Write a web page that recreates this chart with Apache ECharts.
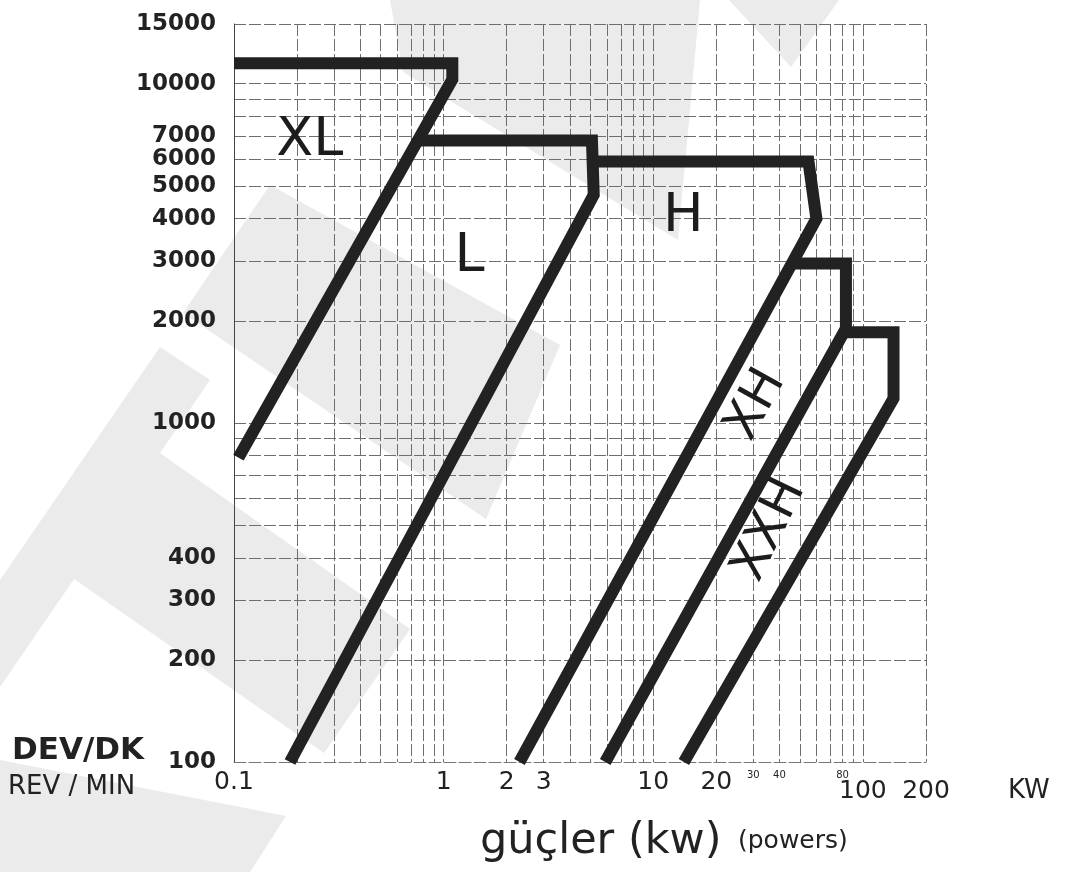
<!DOCTYPE html>
<html>
<head>
<meta charset="utf-8">
<script src="https://cdn.jsdelivr.net/npm/echarts@6/dist/echarts.min.js"></script>
<style>
html,body{margin:0;padding:0;background:#ffffff;}
#chart{width:1076px;height:872px;}
</style>
</head>
<body>
<div id="chart"></div>
<script>
// ---- data (power in kW, speed in rev/min) ----
const seriesNames = ['XL', 'L', 'H', 'XH', 'XXH'];
const xlPower  = [0.1, 1.1, 1.1, 0.105];
const xlRpm    = [11500, 11500, 10300, 790];
const lPower   = [0.75, 5.1, 5.2, 0.185];
const lRpm     = [6800, 6800, 4700, 100];
const hPower   = [5.15, 55, 60, 2.3];
const hRpm     = [5900, 5900, 4000, 100];
const xhPower  = [46, 83, 83, 5.9];
const xhRpm    = [2950, 2950, 1900, 100];
const xxhPower = [81, 140, 140, 14];
const xxhRpm   = [1850, 1850, 1180, 100];

const rpmTickLabels = [100, 200, 300, 400, 1000, 2000, 3000, 4000, 5000, 6000, 7000, 10000, 15000];
const rpmGridValues = [100, 200, 300, 400, 500, 600, 700, 800, 900, 1000, 2000, 3000, 4000, 5000, 6000, 7000, 8000, 9000, 10000, 15000];
const powerTickLabels = [0.1, 1, 2, 3, 10, 20, 30, 40, 80, 100, 200];
const powerGridValues = [0.1, 0.2, 0.3, 0.4, 0.5, 0.6, 0.7, 0.8, 0.9, 1, 2, 3, 4, 5, 6, 7, 8, 9, 10, 20, 30, 40, 50, 60, 70, 80, 90, 100, 200];

// zone names placed inside the chart (data coordinates of the text centres)
const zoneNames = ['XL', 'L', 'H', 'XH', 'XXH'];
const zonePower = [0.23, 1.33, 13.9, 31, 36];
const zoneRpm   = [6800, 3090, 4050, 1130, 483];

const seriesPower = [xlPower, lPower, hPower, xhPower, xxhPower];
const seriesRpm   = [xlRpm, lRpm, hRpm, xhRpm, xxhRpm];

const INK = '#222222';
const FONT = 'DejaVu Sans';
const WATERMARK = '#ebebeb';

const chart = echarts.init(document.getElementById('chart'), null, {renderer: 'canvas'});

const near = (a, b) => Math.abs(a - b) < 1e-9 * Math.max(1, Math.abs(b));

const lineSeries = seriesNames.map((name, k) => ({
  name: name,
  type: 'line',
  data: seriesPower[k].map((p, i) => [p, seriesRpm[k][i]]),
  symbol: 'none',
  silent: true,
  z: 4,
  lineStyle: {color: INK, width: 12, cap: 'butt', join: 'miter', miterLimit: 20}
}));

const zoneRotate = {XH: 61, XXH: 64};
const zoneSeries = {
  type: 'scatter',
  silent: true,
  z: 5,
  symbol: 'rect',
  symbolSize: 1,
  itemStyle: {color: '#ffffff', opacity: 1},
  data: zoneNames.map((n, i) => ({
    name: n,
    value: [zonePower[i], zoneRpm[i]],
    label: {rotate: zoneRotate[n] || 0, fontSize: zoneRotate[n] ? 50 : 54}
  })),
  label: {
    show: true,
    position: 'inside',
    formatter: '{b}',
    color: '#1c1c1c',
    opacity: 1,
    textBorderWidth: 0,
    fontFamily: FONT,
    fontSize: 54
  }
};

const gridLine = {show: true, lineStyle: {color: '#6e6e6e', width: 1, type: [12, 3]}};

// faint background logo shapes of the scanned sheet (decoration only)
const watermarkShapes = [
  [[160, 347], [210, 380], [160, 453], [410, 629], [324, 753], [74, 579], [0, 687], [0, 580]],
  [[0, 760], [286, 816], [250, 872], [0, 872]],
  [[270, 185], [560, 345], [486, 519], [183, 313]],
  [[390, 0], [700, 0], [678, 240], [403, 72]],
  [[729, 0], [839, 0], [791, 67]]
];

const option = {
  backgroundColor: '#ffffff',
  animation: false,
  grid: {left: 234, right: 150, top: 24, bottom: 110, containLabel: false, outerBoundsMode: 'none'},
  xAxis: {
    type: 'log',
    logBase: 10,
    min: 0.1,
    max: 200,
    name: 'KW',
    nameLocation: 'end',
    nameGap: 82,
    nameTextStyle: {fontFamily: FONT, fontSize: 26, color: INK, align: 'left', verticalAlign: 'top', padding: [16, 0, 0, 0]},
    axisLine: {show: true, lineStyle: {color: '#777', width: 1, type: [12, 3]}},
    axisTick: {show: false, customValues: powerGridValues},
    splitLine: gridLine,
    minorSplitLine: {show: false},
    axisLabel: {
      customValues: powerTickLabels,
      margin: 8,
      color: INK,
      fontFamily: FONT,
      formatter: function (v) {
        if (near(v, 30) || near(v, 40) || near(v, 80)) return '{s|' + Math.round(v) + '}';
        if (near(v, 100) || near(v, 200)) return '{d|' + Math.round(v) + '}';
        if (near(v, 0.1)) return '{m|0.1}';
        return '{m|' + Math.round(v) + '}';
      },
      rich: {
        m: {fontSize: 25, fontFamily: FONT, color: INK},
        d: {fontSize: 25, fontFamily: FONT, color: INK, padding: [9, 0, 0, 0]},
        s: {fontSize: 10, fontFamily: FONT, color: INK, padding: [0, 0, 0, 0]}
      }
    }
  },
  yAxis: {
    type: 'log',
    logBase: 10,
    min: 100,
    max: 15000,
    axisLine: {show: true, lineStyle: {color: '#444', width: 1}},
    axisTick: {show: false, customValues: rpmGridValues},
    splitLine: gridLine,
    minorSplitLine: {show: false},
    axisLabel: {
      customValues: rpmTickLabels,
      margin: 18,
      color: INK,
      fontFamily: FONT,
      fontWeight: 'bold',
      fontSize: 23,
      formatter: function (v) { return String(Math.round(v)); }
    }
  },
  graphic: watermarkShapes.map(pts => ({
    type: 'polygon', silent: true, z: -10,
    shape: {points: pts},
    style: {fill: WATERMARK}
  })).concat([
    {type: 'text', left: 12, top: 735, silent: true,
     style: {text: 'DEV/DK', fontFamily: FONT, fontWeight: 'bold', fontSize: 31, fill: INK}},
    {type: 'text', left: 8, top: 774, silent: true,
     style: {text: 'REV / MIN', fontFamily: FONT, fontSize: 26, fill: INK}},
    {type: 'text', left: 480, top: 820, silent: true,
     style: {text: 'güçler (kw)', fontFamily: FONT, fontSize: 43, fill: INK}},
    {type: 'text', left: 738, top: 829, silent: true,
     style: {text: '(powers)', fontFamily: FONT, fontSize: 25, fill: INK}}
  ]),
  series: lineSeries.concat([zoneSeries])
};

chart.setOption(option);
</script>
</body>
</html>
